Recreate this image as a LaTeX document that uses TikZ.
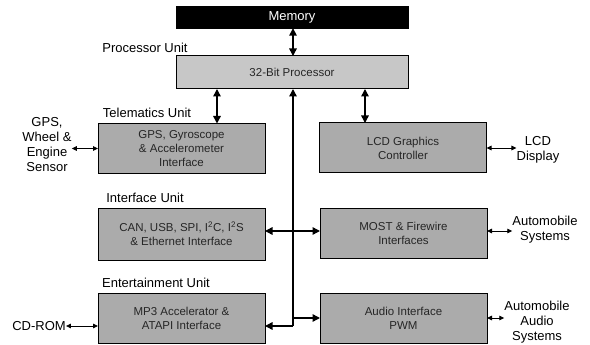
\documentclass[tikz,border=0pt]{standalone}
\usepackage{fontspec}
\setmainfont{Liberation Sans}
\usetikzlibrary{arrows.meta}
\begin{document}
\begin{tikzpicture}[x=1pt,y=-1pt,
  unitbox/.style={draw=black,line width=1pt,fill=black!33,inner sep=0pt,outer sep=0pt,
    minimum width=167pt,minimum height=50pt,align=center,text=black!85,
    font=\fontsize{11.5}{14}\selectfont},
  lbl/.style={inner sep=0pt,font=\fontsize{13}{15}\selectfont,align=center},
  bus/.style={line width=1.4pt},
  big/.style={bus,{Triangle[length=7.5pt,width=7.5pt]}-{Triangle[length=7.5pt,width=7.5pt]}},
  tipend/.style={bus,-{Triangle[length=7.5pt,width=7.5pt]}},
  side/.style={line width=0.9pt,{Triangle[length=5pt,width=4.5pt]}-{Triangle[length=5pt,width=4.5pt]}}
]
\useasboundingbox (0,0) rectangle (590,345);
% memory and processor
\node[draw=black,fill=black,minimum width=232pt,minimum height=22pt,inner sep=0pt,
  text=white,font=\fontsize{13}{15}\selectfont] (mem) at (292,17) {Memory};
\node[unitbox,fill=black!22,minimum width=232pt,minimum height=33pt] (proc) at (292,72.5) {32-Bit Processor};
\node[lbl] (plbl) at (145,48) {Processor Unit};
% units
\node[unitbox] (tel) at (181.5,148.5) {GPS, Gyroscope\\\& Accelerometer\\Interface};
\node[lbl] (tlbl) at (147,113) {Telematics Unit};
\node[unitbox] (lcd) at (403,148) {LCD Graphics\\Controller};
\node[unitbox,minimum height=52pt] (int) at (181.5,234) {CAN, USB, SPI, I\textsuperscript{2}C, I\textsuperscript{2}S\\\& Ethernet Interface};
\node[lbl] (ilbl) at (145,198) {Interface Unit};
\node[unitbox] (most) at (403.5,233) {MOST \& Firewire\\Interfaces};
\node[unitbox] (ent) at (181.5,318.5) {MP3 Accelerator \&\\ATAPI Interface};
\node[lbl] (elbl) at (156,283) {Entertainment Unit};
\node[unitbox] (aud) at (403.5,318) {Audio Interface\\PWM};
% external labels
\node[lbl] (gps) at (47,145) {GPS,\\Wheel \&\\Engine\\Sensor};
\node[lbl] (lcdd) at (538,150) {LCD\\Display};
\node[lbl] (asys) at (545,229.5) {Automobile\\Systems};
\node[lbl] (cd) at (39,326) {CD-ROM};
\node[lbl] (aas) at (537,322) {Automobile\\Audio\\Systems};
% bus coordinates
\coordinate (tx) at (217,0);
\coordinate (lx) at (365,0);
\coordinate (bx) at (293,0);
\coordinate (b1) at (293,231);
\coordinate (b2) at (293,326);
\coordinate (b3) at (293,318);
% connectors
\draw[big] (mem.south -| bx) -- (proc.north -| bx);
\draw[big] (proc.south -| tx) -- (tel.north -| tx);
\draw[big] (proc.south -| lx) -- (lcd.north -| lx);
\draw[tipend] (b2) -- (proc.south -| bx);
\draw[tipend] (b1) -- (b1 -| int.east);
\draw[tipend] (b1) -- (b1 -| most.west);
\draw[tipend] (b2) -- (b2 -| ent.east);
\draw[tipend] (b3) -- (b3 -| aud.west);
\draw[side] (gps.east |- tel.west) -- (tel.west);
\draw[side] (lcd.east) -- (lcdd.west |- lcd.east);
\draw[side] (most.east |- b1) -- (asys.west |- b1);
\draw[side] (cd.east) -- (cd.east -| ent.west);
\draw[side] (aud.east) -- (aas.west |- aud.east);
\end{tikzpicture}
\end{document}
